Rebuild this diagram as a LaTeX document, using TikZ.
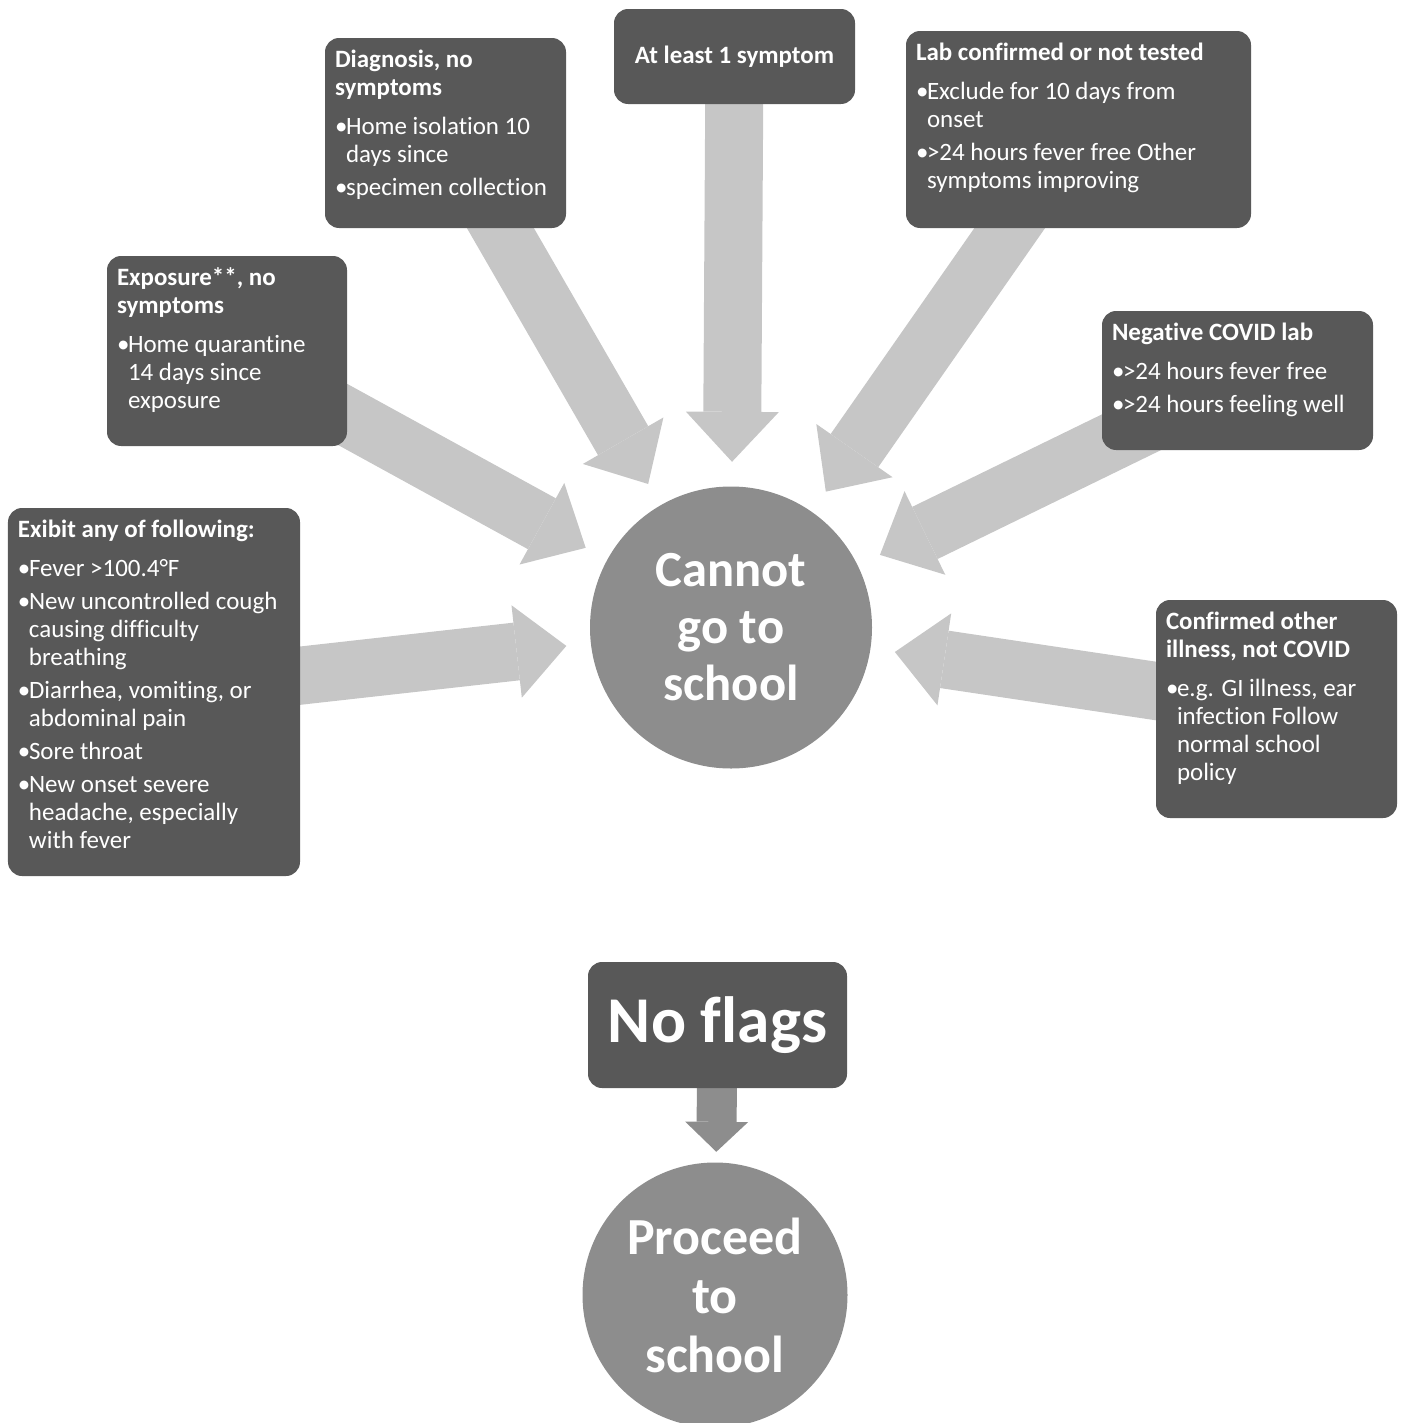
\documentclass[tikz,border=0pt]{standalone}
\usepackage{fontspec}
\setmainfont{Carlito}[Ligatures=NoCommon]
\usetikzlibrary{arrows.meta,positioning,backgrounds}
\definecolor{boxgray}{RGB}{88,88,88}
\definecolor{hubgray}{RGB}{141,141,141}
\definecolor{feedgray}{RGB}{198,198,198}
\newcommand{\bul}{\makebox[0.11cm][l]{\textbullet}}
\newcommand{\ind}{\hspace*{0.11cm}}

\begin{document}
\begin{tikzpicture}[
        infobox/.style={rectangle, rounded corners=4pt, fill=boxgray, inner sep=0pt},
        infotext/.style={anchor=north west, align=left, text=white, inner xsep=0.1cm, inner ysep=0.12cm, font=\fontsize{7.1}{8}\selectfont},
        hub/.style={circle, fill=hubgray, inner sep=0pt, align=center, text=white, font=\bfseries\fontsize{14.4}{16.2}\selectfont},
        feed/.style={draw=feedgray, line width=0.58cm, shorten >=0.24cm, -{Triangle[width=0.93cm, length=0.5cm, line width=0pt]}},
        feedsmall/.style={draw=hubgray, line width=0.4cm, shorten >=0.1cm, -{Triangle[width=0.63cm, length=0.3cm, line width=0pt]}}
      ]
      \useasboundingbox (0,0) rectangle (14.03,-14.23);

      % boxes round the hub
      \node[infobox, minimum width=2.41cm, minimum height=1.90cm] (diag) at (4.455,-1.33) {};
      \node[infobox, minimum width=2.41cm, minimum height=0.95cm, text=white, font=\bfseries\fontsize{7.1}{8}\selectfont] (least) at (7.345,-0.565) {At least 1 symptom};
      \node[infobox, minimum width=3.45cm, minimum height=1.97cm] (lab) at (10.785,-1.295) {};
      \node[infobox, minimum width=2.40cm, minimum height=1.90cm] (expo) at (2.27,-3.51) {};
      \node[infobox, minimum width=2.71cm, minimum height=1.39cm] (neg) at (12.375,-3.805) {};
      \node[infobox, minimum width=2.92cm, minimum height=3.68cm] (exhibit) at (1.54,-6.92) {};
      \node[infobox, minimum width=2.41cm, minimum height=2.18cm] (other) at (12.765,-7.09) {};

      \node[infotext] (diagtxt) at (diag.north west) {\textbf{Diagnosis, no}\\\textbf{symptoms}\\[3pt]\bul Home isolation 10\\\ind days since\\[1.4pt]\bul specimen collection};
      \node[infotext] (labtxt) at (lab.north west) {\textbf{Lab confirmed or not tested}\\[3pt]\bul Exclude for 10 days from\\\ind onset\\[1.4pt]\bul >24 hours fever free Other\\\ind symptoms improving};
      \node[infotext] (expotxt) at (expo.north west) {\textbf{Exposure**, no}\\\textbf{symptoms}\\[3pt]\bul Home quarantine\\\ind 14 days since\\\ind exposure};
      \node[infotext] (negtxt) at (neg.north west) {\textbf{Negative COVID lab}\\[3pt]\bul >24 hours fever free\\[1.4pt]\bul >24 hours feeling well};
      \node[infotext] (exhibittxt) at (exhibit.north west) {\textbf{Exibit any of following:}\\[3pt]\bul Fever >100.4°F\\[1.4pt]\bul New uncontrolled cough\\\ind causing difficulty\\\ind breathing\\[1.4pt]\bul Diarrhea, vomiting, or\\\ind abdominal pain\\[1.4pt]\bul Sore throat\\[1.4pt]\bul New onset severe\\\ind headache, especially\\\ind with fever};
      \node[infotext] (othertxt) at (other.north west) {\textbf{Confirmed other}\\\textbf{illness, not COVID}\\[3pt]\bul e.g. GI illness, ear\\\ind infection Follow\\\ind normal school\\\ind policy};

      \node[hub, minimum size=2.82cm] (cannot) at (7.31,-6.275) {Cannot\\go to\\school};

      % lower part
      \node[infobox, minimum width=2.59cm, minimum height=1.26cm, text=white, font=\bfseries\fontsize{18.6}{20}\selectfont] (noflags) at (7.175,-10.25) {No flags};
      \node[hub, minimum size=2.65cm, font=\bfseries\fontsize{14.8}{16.8}\selectfont] (proceed) at (7.15,-12.95) {Proceed\\to\\school};

      \begin{scope}[on background layer]
        \draw[feed] (exhibit.center) -- (cannot);
        \draw[feed] (expo.center) -- (cannot);
        \draw[feed] (diag.center) -- (cannot);
        \draw[feed] (least.center) -- (cannot);
        \draw[feed] (lab.center) -- (cannot);
        \draw[feed] (neg.center) -- (cannot);
        \draw[feed] (other.center) -- (cannot);
        \draw[feedsmall] (noflags.center) -- (proceed);
      \end{scope}
    \end{tikzpicture}
\end{document}
